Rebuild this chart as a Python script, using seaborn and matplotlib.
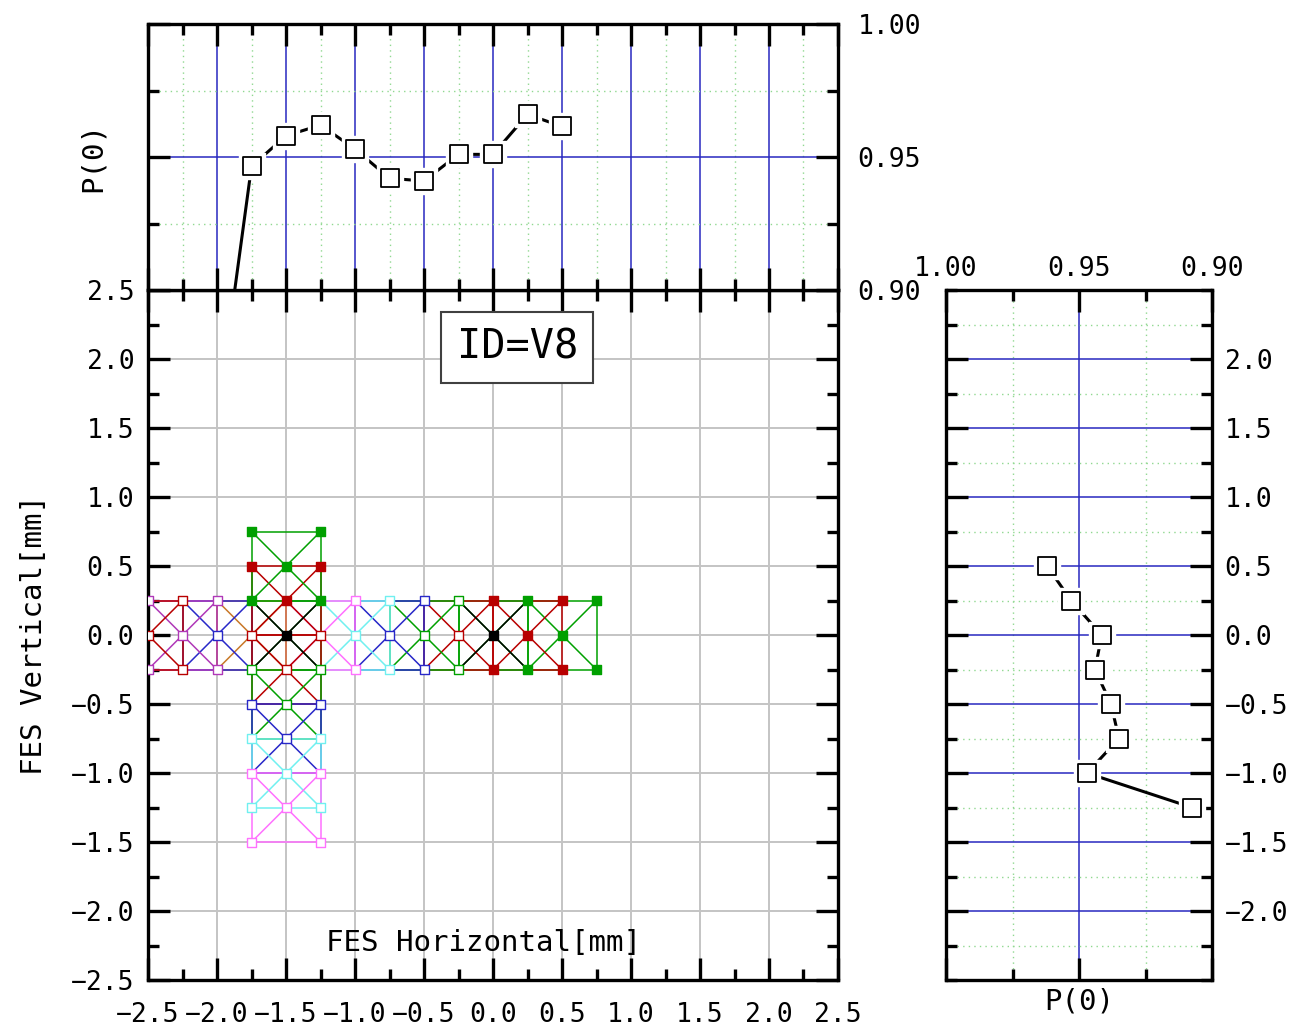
import numpy as np
import seaborn as sns
import matplotlib.pyplot as plt
from matplotlib.ticker import MultipleLocator, FuncFormatter

# P(0) along the horizontal scan (top panel)
top_x = [-2.0, -1.75, -1.5, -1.25, -1.0, -0.75, -0.5, -0.25, 0.0, 0.25, 0.5]
top_p = [0.851, 0.9465, 0.958, 0.962, 0.953, 0.942, 0.941, 0.951, 0.951, 0.966, 0.9615]

# P(0) along the vertical scan (right panel)
right_y = [0.5, 0.25, 0.0, -0.25, -0.5, -0.75, -1.0, -1.25]
right_p = [0.962, 0.953, 0.9415, 0.944, 0.938, 0.935, 0.947, 0.9075]

# scan cells (centre + color), drawn in this order
cell_x = [0.5, 0.25, 0.0, -0.25, -0.5, -0.75, -1.0, -1.25, -1.5, -1.75, -2.0, -2.25, -2.5,
          -1.5, -1.5, -1.5, -1.5, -1.5, -1.5, -1.5]
cell_y = [0.0] * 13 + [0.25, 0.5, -0.25, -0.5, -0.75, -1.0, -1.25]
cell_c = ['g', 'r', 'g', 'r', 'g', 'b', 'c', 'p', 'g', 'o', 'b', 'v', 'r',
          'r', 'g', 'r', 'g', 'b', 'c', 'p']
ref_x = [-1.5, 0.0]
ref_y = [0.0, 0.0]

# marker points (upper case = filled)
row_x = [-2.5, -2.25, -2.0, -1.75, -1.5, -1.25, -1.0, -0.75, -0.5, -0.25, 0.0, 0.25, 0.5, 0.75]
row_top = ['v', 'r', 'v', 'G', 'R', 'G', 'p', 'c', 'b', 'g', 'R', 'G', 'R', 'G']
row_mid = ['r', 'v', 'b', 'r', 'K', 'r', 'c', 'b', 'g', 'r', 'K', 'R', 'G', None]
row_bot = ['v', 'r', 'v', 'g', 'r', 'g', 'p', 'c', 'b', 'g', 'R', 'G', 'R', 'G']
col_y = [0.75, 0.5, -0.5, -0.75, -1.0, -1.25, -1.5]
col_side = ['G', 'R', 'b', 'c', 'p', 'c', 'p']
col_mid = [None, 'G', 'g', 'b', 'c', 'p', None]

palette = {'k': '#000000', 'r': '#b80000', 'g': '#00a000', 'b': '#2828c8',
           'c': '#70f0f0', 'p': '#ff70ff', 'v': '#b038b8', 'o': '#c87828'}

plt.rcParams['font.family'] = ['DejaVu Sans Mono']
plt.rcParams['axes.linewidth'] = 2.4

fig = plt.figure(figsize=(12.94, 10.30), dpi=100)
ax = fig.add_axes([0.1144, 0.0485, 0.5332, 0.6699])
ax_top = fig.add_axes([0.1144, 0.7184, 0.5332, 0.2583])
ax_r = fig.add_axes([0.7311, 0.0485, 0.2056, 0.6699])


def fmt(n):
    def f(v, pos):
        s = f'{v + 0.0:.{n}f}'
        if s.startswith('-') and float(s) == 0:
            s = s[1:]
        return s.replace('-', '\u2212')
    return FuncFormatter(f)


def style_ticks(a):
    a.tick_params(which='both', direction='in', top=True, right=True, bottom=True, left=True)
    a.tick_params(which='major', length=16, width=2.4, labelsize=19)
    a.tick_params(which='minor', length=8, width=2.4)


# ---- main panel ----
ax.set_xlim(-2.5, 2.5)
ax.set_ylim(-2.5, 2.5)
ax.xaxis.set_major_locator(MultipleLocator(0.5))
ax.xaxis.set_minor_locator(MultipleLocator(0.25))
ax.yaxis.set_major_locator(MultipleLocator(0.5))
ax.yaxis.set_minor_locator(MultipleLocator(0.25))
ax.xaxis.set_major_formatter(fmt(1))
ax.yaxis.set_major_formatter(fmt(1))
style_ticks(ax)
ax.tick_params(axis='x', pad=16)
ax.tick_params(axis='y', pad=10)
ax.grid(which='major', color='#c4c4c4', lw=1.4)
ax.set_axisbelow(True)

h = 0.25
for cx, cy, c in zip(cell_x, cell_y, cell_c):
    col = palette[c]
    ax.plot([cx - h, cx + h, cx + h, cx - h, cx - h], [cy - h, cy - h, cy + h, cy + h, cy - h],
            color=col, lw=1.1, zorder=2)
    ax.plot([cx - h, cx + h], [cy - h, cy + h], color=col, lw=1.1, zorder=2)
    ax.plot([cx - h, cx + h], [cy + h, cy - h], color=col, lw=1.1, zorder=2)
for cx, cy in zip(ref_x, ref_y):
    ax.plot([cx - h, cx + h], [cy - h, cy + h], color='black', lw=1.1, zorder=2)
    ax.plot([cx - h, cx + h], [cy + h, cy - h], color='black', lw=1.1, zorder=2)

mx, my, mc = [], [], []
for yy, codes in [(0.25, row_top), (0.0, row_mid), (-0.25, row_bot)]:
    for xx, code in zip(row_x, codes):
        if code:
            mx.append(xx); my.append(yy); mc.append(code)
for yy, side, mid in zip(col_y, col_side, col_mid):
    for xx, code in [(-1.75, side), (-1.5, mid), (-1.25, side)]:
        if code:
            mx.append(xx); my.append(yy); mc.append(code)
edge = [palette[c.lower()] for c in mc]
face = [palette[c.lower()] if c.isupper() else 'white' for c in mc]
ax.scatter(mx, my, marker='s', s=42, facecolors=face, edgecolors=edge, linewidths=1.0, zorder=3)

ax.set_ylabel('FES Vertical[mm]', fontsize=21, labelpad=16)
ax.text(0.4855, 0.0536, 'FES Horizontal[mm]', transform=ax.transAxes, fontsize=21,
        ha='center', va='center')
ax.text(0.535, 0.917, 'ID=V8', transform=ax.transAxes, fontsize=29, ha='center', va='center',
        bbox=dict(boxstyle='square,pad=0.38', fc='white', ec='#404040', lw=1.5))

blue = '#2828c0'
green_dot = dict(color='#90d890', lw=1.0, ls=(0, (1, 3)))

# ---- top panel ----
ax_top.set_xlim(-2.5, 2.5)
ax_top.set_ylim(0.90, 1.00)
ax_top.xaxis.set_major_locator(MultipleLocator(0.5))
ax_top.xaxis.set_minor_locator(MultipleLocator(0.25))
ax_top.yaxis.set_major_locator(MultipleLocator(0.05))
ax_top.yaxis.set_minor_locator(MultipleLocator(0.025))
ax_top.yaxis.set_major_formatter(fmt(2))
style_ticks(ax_top)
ax_top.tick_params(labelbottom=False, labelleft=False, labelright=True, pad=14)
ax_top.grid(which='major', color=blue, lw=1.1)
ax_top.grid(which='minor', **green_dot)
ax_top.set_axisbelow(True)
sns.lineplot(x=top_x, y=top_p, ax=ax_top, color='black', lw=2.2, sort=False, estimator=None, zorder=3)
ax_top.scatter(top_x, top_p, marker='s', s=330, color='white', zorder=4)
ax_top.scatter(top_x, top_p, marker='s', s=170, facecolors='white', edgecolors='black',
               linewidths=1.3, zorder=5)
ax_top.set_ylabel('P(0)', fontsize=21, labelpad=26)
ax_top.set_xlabel('')

# ---- right panel ----
ax_r.set_xlim(1.00, 0.90)
ax_r.set_ylim(-2.5, 2.5)
ax_r.xaxis.set_major_locator(MultipleLocator(0.05))
ax_r.xaxis.set_minor_locator(MultipleLocator(0.025))
ax_r.set_yticks(np.arange(-2.0, 2.01, 0.5))
ax_r.yaxis.set_minor_locator(MultipleLocator(0.25))
ax_r.xaxis.set_major_formatter(fmt(2))
ax_r.yaxis.set_major_formatter(fmt(1))
style_ticks(ax_r)
ax_r.tick_params(labelbottom=False, labeltop=True, labelleft=False, labelright=True)
ax_r.tick_params(axis='x', pad=6)
ax_r.tick_params(axis='y', pad=9)
ax_r.grid(which='major', color=blue, lw=1.1)
ax_r.grid(which='minor', **green_dot)
ax_r.set_axisbelow(True)
sns.lineplot(x=right_p, y=right_y, ax=ax_r, color='black', lw=2.2, sort=False, estimator=None, zorder=3)
ax_r.scatter(right_p, right_y, marker='s', s=330, color='white', zorder=4)
ax_r.scatter(right_p, right_y, marker='s', s=170, facecolors='white', edgecolors='black',
             linewidths=1.3, zorder=5)
ax_r.set_xlabel('P(0)', fontsize=21, labelpad=2)
ax_r.set_ylabel('')

fig.savefig('out.png', dpi=100)
